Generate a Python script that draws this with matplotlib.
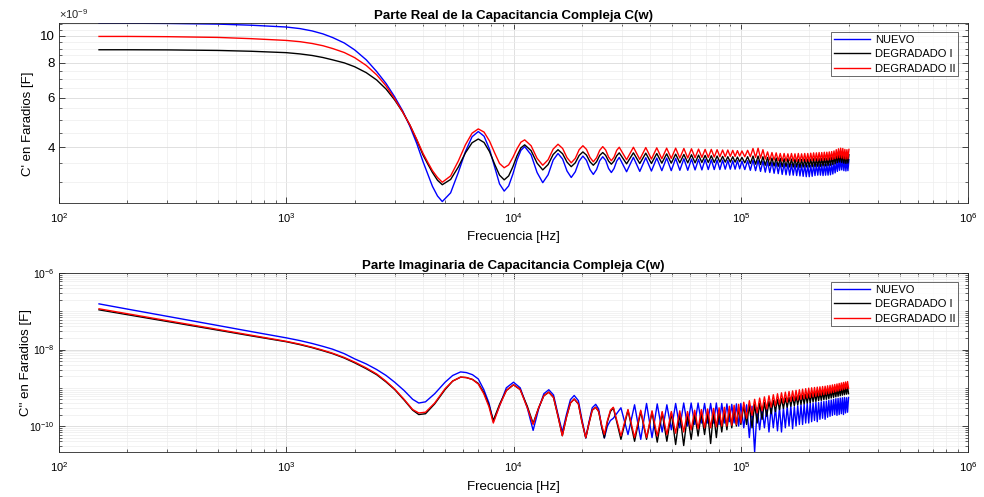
import matplotlib
matplotlib.use("Agg")
import matplotlib.pyplot as plt
import numpy as np
from matplotlib.ticker import FixedLocator, FixedFormatter, NullFormatter, LogLocator

plt.rcParams['font.family'] = ['Liberation Sans', 'DejaVu Sans']
plt.rcParams['mathtext.fontset'] = 'custom'
plt.rcParams['mathtext.rm'] = 'Liberation Sans'
plt.rcParams['mathtext.it'] = 'Liberation Sans:italic'
plt.rcParams['mathtext.bf'] = 'Liberation Sans:bold'

SERIES = ["NUEVO", "DEGRADADO I", "DEGRADADO II"]
COLORS = ["#0000ff", "#000000", "#ff0000"]

# ---------- Parte real C' (frecuencia en kHz, capacitancia en nF) ----------
F_REAL_KHZ = [
    0.15, 0.2, 0.3, 0.5, 0.7, 1.0, 1.15, 1.3, 1.45, 1.6, 1.8, 2.0, 2.25, 2.5, 2.75,
    3.0, 3.25, 3.5, 3.75, 4.0, 4.2, 4.4, 4.63,
    4.86, 5.288, 5.716, 6.144, 6.572, 7.0, 7.42, 7.84, 8.26, 8.68, 9.1,
    9.52, 9.94, 10.36, 10.78, 11.2, 11.95, 12.7, 13.45, 14.2,
    14.95, 15.7, 16.45, 17.2, 17.95, 18.7, 19.45, 20.2, 20.95, 21.7, 22.45, 23.2,
    23.95, 24.7, 25.45, 26.2, 26.95, 27.7, 28.45, 29.2,
    31.45, 33.7, 35.95, 38.2, 40.45, 42.7, 44.95, 47.2, 49.45, 51.7, 53.95, 56.2,
    58.45, 60.7, 62.95, 65.2, 67.45, 69.7, 71.95, 74.2, 76.45, 78.7, 80.95, 83.2,
    85.45, 87.7, 89.95, 92.2, 94.45, 96.7, 98.95, 101.2,
    104.2, 107.2, 110.2, 113.2, 116.2, 119.2, 122.2, 125.2, 128.2, 131.2, 134.2,
    137.2, 140.2, 143.2, 146.2, 149.2, 152.2, 155.2, 158.2, 161.2, 164.2, 167.2,
    170.2, 173.2, 176.2, 179.2, 182.2, 185.2, 188.2, 191.2, 194.2, 197.2, 200.2,
    203.2, 206.2, 209.2, 212.2, 215.2, 218.2, 221.2, 224.2, 227.2, 230.2, 233.2,
    236.2, 239.2, 242.2, 245.2, 248.2, 251.2, 254.2, 257.2, 260.2, 263.2, 266.2,
    269.2, 272.2, 275.2, 278.2, 281.2, 284.2, 287.2, 290.2, 293.2, 296.2, 299.2,
]

REAL_NUEVO_NF = [
    11.08, 11.08, 11.06, 11.00, 10.90, 10.74, 10.60, 10.40, 10.15, 9.85, 9.42, 8.90, 8.20, 7.45, 6.75,
    6.05, 5.40, 4.75, 4.13, 3.55, 3.20, 2.90, 2.68,
    2.56, 2.75, 3.25, 3.86, 4.36, 4.55, 4.38, 3.94, 3.40, 2.96, 2.79,
    2.91, 3.21, 3.60, 3.90, 4.02, 3.76, 3.25, 2.99, 3.19,
    3.60, 3.80, 3.63, 3.29, 3.12, 3.27, 3.57, 3.72, 3.59, 3.33, 3.20, 3.33,
    3.58, 3.70, 3.59, 3.36, 3.25, 3.36, 3.57, 3.68,
    3.27, 3.68, 3.28, 3.67, 3.29, 3.66, 3.30, 3.66, 3.30, 3.65, 3.31, 3.64,
    3.31, 3.63, 3.32, 3.62, 3.32, 3.62, 3.33, 3.61, 3.33, 3.60, 3.33, 3.60,
    3.34, 3.59, 3.34, 3.58, 3.34, 3.58, 3.35, 3.57,
    3.33, 3.58, 3.31, 3.60, 3.30, 3.59, 3.28, 3.57, 3.26, 3.55, 3.25,
    3.54, 3.23, 3.53, 3.22, 3.52, 3.20, 3.50, 3.19, 3.49, 3.18, 3.48,
    3.18, 3.48, 3.17, 3.47, 3.16, 3.46, 3.15, 3.46, 3.14, 3.45, 3.14,
    3.45, 3.15, 3.46, 3.17, 3.47, 3.18, 3.48, 3.18, 3.47, 3.17, 3.47,
    3.18, 3.48, 3.18, 3.48, 3.19, 3.49, 3.21, 3.51, 3.24, 3.55, 3.28,
    3.60, 3.31, 3.64, 3.32, 3.66, 3.30, 3.62, 3.29, 3.60, 3.30, 3.61,
]

REAL_DEG1_NF = [
    8.91, 8.91, 8.90, 8.86, 8.80, 8.70, 8.61, 8.50, 8.36, 8.20, 8.00, 7.75, 7.38, 6.95, 6.45,
    5.90, 5.35, 4.80, 4.25, 3.75, 3.48, 3.25, 3.05,
    2.94, 3.07, 3.40, 3.82, 4.15, 4.28, 4.16, 3.86, 3.48, 3.18, 3.06,
    3.16, 3.41, 3.73, 3.98, 4.08, 3.89, 3.51, 3.32, 3.47,
    3.77, 3.92, 3.79, 3.54, 3.41, 3.52, 3.74, 3.85, 3.75, 3.55, 3.45, 3.55,
    3.74, 3.83, 3.74, 3.57, 3.48, 3.57, 3.73, 3.82,
    3.49, 3.82, 3.50, 3.81, 3.50, 3.80, 3.51, 3.79, 3.51, 3.78, 3.52, 3.77,
    3.52, 3.76, 3.52, 3.75, 3.53, 3.74, 3.53, 3.73, 3.53, 3.72, 3.54, 3.71,
    3.54, 3.70, 3.54, 3.70, 3.54, 3.69, 3.55, 3.68,
    3.52, 3.70, 3.50, 3.72, 3.48, 3.72, 3.47, 3.70, 3.45, 3.68, 3.44,
    3.66, 3.43, 3.66, 3.42, 3.65, 3.41, 3.64, 3.41, 3.64, 3.40, 3.63,
    3.40, 3.63, 3.40, 3.62, 3.39, 3.62, 3.40, 3.63, 3.40, 3.63, 3.40,
    3.63, 3.41, 3.64, 3.41, 3.64, 3.42, 3.65, 3.42, 3.65, 3.43, 3.66,
    3.43, 3.66, 3.44, 3.67, 3.45, 3.68, 3.47, 3.70, 3.49, 3.73, 3.52,
    3.77, 3.54, 3.80, 3.53, 3.79, 3.51, 3.76, 3.50, 3.75, 3.51, 3.76,
]

REAL_DEG2_NF = [
    9.94, 9.94, 9.92, 9.86, 9.76, 9.62, 9.52, 9.38, 9.21, 9.00, 8.71, 8.35, 7.83, 7.25, 6.62,
    5.95, 5.35, 4.80, 4.27, 3.80, 3.53, 3.30, 3.12,
    3.00, 3.16, 3.57, 4.08, 4.49, 4.65, 4.53, 4.21, 3.82, 3.50, 3.38,
    3.46, 3.68, 3.95, 4.17, 4.25, 4.05, 3.65, 3.45, 3.61,
    3.94, 4.10, 3.96, 3.67, 3.52, 3.65, 3.92, 4.05, 3.93, 3.68, 3.55, 3.67,
    3.90, 4.02, 3.91, 3.69, 3.58, 3.69, 3.90, 4.00,
    3.61, 4.00, 3.62, 3.99, 3.63, 3.98, 3.64, 3.97, 3.65, 3.97, 3.66, 3.96,
    3.66, 3.95, 3.67, 3.94, 3.68, 3.93, 3.68, 3.93, 3.69, 3.92, 3.70, 3.91,
    3.70, 3.91, 3.71, 3.90, 3.71, 3.89, 3.72, 3.88,
    3.70, 3.90, 3.70, 3.96, 3.68, 3.97, 3.66, 3.92, 3.63, 3.85, 3.60,
    3.83, 3.60, 3.82, 3.58, 3.80, 3.57, 3.80, 3.57, 3.79, 3.58, 3.80,
    3.57, 3.79, 3.56, 3.80, 3.56, 3.79, 3.57, 3.80, 3.56, 3.80, 3.56,
    3.81, 3.58, 3.82, 3.58, 3.82, 3.58, 3.83, 3.59, 3.83, 3.59, 3.84,
    3.60, 3.84, 3.60, 3.85, 3.61, 3.86, 3.62, 3.88, 3.64, 3.92, 3.66,
    3.95, 3.67, 3.97, 3.66, 3.96, 3.64, 3.93, 3.63, 3.92, 3.64, 3.93,
]

# ---------- Parte imaginaria C'' (frecuencia en kHz, capacitancia en 1e-10 F) ----------
F_IMAG_KHZ = [
    0.15, 0.2, 0.3, 0.5, 0.7, 1.0, 1.15, 1.3, 1.45, 1.6, 1.8, 2.0, 2.25, 2.5, 2.75,
    3.0, 3.3, 3.6,
    3.83, 4.1, 4.5, 5.0, 5.4, 5.85, 6.2, 6.6, 7.0, 7.4, 7.8, 8.15, 8.7, 9.3, 10.0, 10.7, 11.5,
    12.2, 12.9, 13.6, 14.3, 15.0, 15.7, 16.4, 17.1, 17.8, 18.5, 19.3, 20.0,
    20.8, 21.5, 22.2, 23.0, 23.7, 24.4, 25.1, 25.9, 26.7, 27.5,
    29.7, 31.9, 34.1, 36.3, 38.5, 40.7, 42.9, 45.1, 47.3, 49.5, 51.7, 53.9,
    56.1, 58.3, 60.5, 62.7, 64.9, 67.1, 69.3, 71.5, 73.7, 75.9, 78.1, 80.3,
    82.5, 84.7, 86.9, 89.1, 91.3, 93.5, 95.7, 97.9, 100.1,
    103.1, 106.1, 109.1, 112.1, 115.1, 118.1, 121.1, 124.1, 127.1, 130.1, 133.1,
    136.1, 139.1, 142.1, 145.1, 148.1, 151.1, 154.1, 157.1, 160.1, 163.1, 166.1,
    169.1, 172.1, 175.1, 178.1, 181.1, 184.1, 187.1, 190.1, 193.1, 196.1, 199.1,
    202.1, 205.1, 208.1, 211.1, 214.1, 217.1, 220.1, 223.1, 226.1, 229.1, 232.1,
    235.1, 238.1, 241.1, 244.1, 247.1, 250.1, 253.1, 256.1, 259.1, 262.1, 265.1,
    268.1, 271.1, 274.1, 277.1, 280.1, 283.1, 286.1, 289.1, 292.1, 295.1, 298.1,
]

IMAG_NUEVO = [
    1560, 1140, 738, 425, 295, 202, 171, 144, 121, 102, 78, 57, 42, 30, 21,
    14, 8.5, 5.0,
    4.0, 4.3, 7.0, 14, 21, 26, 25, 22, 17, 9, 4.0, 1.3, 3.5, 10, 14, 10, 3.0,
    0.77, 2.8, 7.0, 8.9, 6.5, 2.0, 0.70, 2.0, 4.9, 6.3, 4.6, 1.5,
    0.49, 1.3, 3.0, 3.7, 2.8, 1.0, 0.49, 1.0, 1.4, 1.6,
    3.0, 0.6, 3.6, 0.45, 3.9, 0.5, 3.8, 0.7, 3.6, 0.8, 3.9, 0.9,
    4.0, 1.0, 4.0, 1.1, 4.0, 1.2, 3.9, 1.2, 3.9, 1.2, 4.0, 1.1,
    3.9, 1.2, 3.8, 1.3, 3.7, 1.2, 3.8, 1.0, 3.9,
    0.9, 3.6, 0.5, 3.3, 0.21, 3.0, 0.8, 2.9, 0.9, 3.0, 0.7,
    3.1, 0.9, 3.0, 0.75, 3.1, 0.7, 3.0, 0.9, 3.2, 1.0, 3.3,
    0.85, 3.2, 1.0, 3.4, 1.1, 3.6, 1.1, 3.7, 1.2, 3.9, 1.2,
    4.1, 1.3, 4.0, 1.4, 4.2, 1.3, 4.1, 1.5, 4.3, 1.6, 4.4,
    1.5, 4.5, 1.7, 4.7, 1.8, 4.8, 1.9, 5.0, 2.0, 5.2, 1.9,
    5.3, 2.0, 5.4, 2.1, 5.5, 2.0, 5.6, 2.2, 5.5, 2.3, 5.6,
]

IMAG_DEG1 = [
    1090, 815, 540, 320, 228, 160, 134, 112, 93, 78, 60, 45, 31.5, 22, 14.2,
    9.0, 4.8, 2.6,
    2.0, 2.1, 3.8, 9.0, 15, 19, 18.5, 16.5, 13, 7.5, 3.5, 1.4, 3.8, 8.5, 12, 9, 3.3,
    1.17, 3.0, 6.2, 7.7, 5.6, 1.8, 0.56, 1.7, 4.0, 5.1, 3.8, 1.3,
    0.49, 1.2, 2.6, 3.1, 2.4, 1.0, 0.49, 1.3, 2.4, 3.0,
    0.45, 2.6, 0.4, 2.4, 0.45, 2.3, 0.38, 2.2, 0.4, 2.2, 0.33, 2.1,
    0.31, 2.0, 0.45, 2.1, 0.55, 2.2, 0.6, 2.3, 0.35, 2.3, 0.5, 2.4,
    0.7, 2.5, 0.8, 2.7, 0.9, 2.8, 1.0, 3.0, 1.1,
    3.4, 1.1, 3.5, 0.9, 3.7, 1.2, 3.9, 1.5, 4.1, 1.8, 4.4,
    2.1, 4.7, 2.4, 5.0, 2.7, 5.2, 2.9, 5.4, 3.1, 5.6, 3.3,
    5.8, 3.4, 6.0, 3.6, 6.2, 3.7, 6.4, 3.8, 6.7, 4.0, 7.0,
    4.1, 7.2, 4.3, 7.4, 4.4, 7.6, 4.6, 7.8, 4.7, 8.0, 4.9,
    8.2, 5.0, 8.5, 5.2, 8.7, 5.4, 9.0, 5.6, 9.3, 5.8, 9.6,
    6.0, 9.9, 6.2, 10.2, 6.4, 10.5, 6.6, 10.8, 6.8, 11.0, 7.0,
]

IMAG_DEG2 = [
    1160, 862, 569, 335, 237, 164, 138, 115, 96, 80, 62, 47, 33, 23, 14.8,
    9.3, 5.0, 2.7,
    2.2, 2.3, 4.0, 9.5, 15, 19, 18.5, 16.5, 12.5, 7, 3.2, 1.2, 3.5, 8.5, 12, 9, 3.0,
    1.1, 3.0, 6.2, 7.7, 5.6, 1.8, 0.56, 1.7, 4.0, 5.1, 3.8, 1.3,
    0.5, 1.2, 2.6, 3.1, 2.4, 1.1, 0.60, 1.4, 2.6, 3.1,
    0.55, 2.7, 0.5, 2.6, 0.5, 2.5, 0.55, 2.4, 0.6, 2.4, 0.65, 2.5,
    0.7, 2.4, 0.8, 2.6, 0.85, 2.7, 0.9, 2.8, 0.9, 2.9, 0.95, 3.0,
    1.0, 3.1, 1.0, 3.3, 1.05, 3.5, 1.1, 3.7, 1.2,
    4.2, 1.6, 4.6, 1.9, 5.0, 2.2, 5.4, 2.5, 5.8, 2.8, 6.2,
    3.1, 6.6, 3.4, 7.0, 3.7, 7.4, 4.0, 7.7, 4.2, 8.0, 4.4,
    8.3, 4.6, 8.6, 4.8, 8.9, 5.0, 9.2, 5.2, 9.5, 5.4, 9.8,
    5.6, 10.0, 5.8, 10.2, 6.0, 10.4, 6.2, 10.6, 6.4, 10.8, 6.6,
    11.0, 6.8, 11.3, 7.0, 11.6, 7.3, 11.9, 7.6, 12.2, 7.9, 12.6,
    8.2, 13.0, 8.5, 13.4, 8.8, 13.8, 9.2, 14.2, 9.5, 14.6, 9.7,
]

X_TICKS = [1e2, 1e3, 1e4, 1e5, 1e6]
REAL_YTICKS_NF = [4, 6, 8, 10]
REAL_YMINOR_NF = [2.5, 3, 3.5, 4.5, 5, 5.5, 6.5, 7, 7.5, 8.5, 9, 9.5, 10.5, 11]
IMAG_YTICKS = [1e-10, 1e-8, 1e-6]

fig = plt.figure(figsize=(9.84, 4.97), dpi=100)
W, H = 984.0, 497.0
ax1 = fig.add_axes([59 / W, 1 - 203 / H, 909 / W, 180 / H])
ax2 = fig.add_axes([59 / W, 1 - 452 / H, 909 / W, 179 / H])

GRID_MAJ = dict(color="#dadada", linewidth=0.6, linestyle="-")
GRID_MIN = dict(color="#ededed", linewidth=0.5, linestyle="-")
AX_COLOR = "#262626"


def style_axes(ax):
    ax.set_xscale("log")
    ax.set_xlim(1e2, 1e6)
    ax.xaxis.set_major_locator(FixedLocator(X_TICKS))
    ax.xaxis.set_minor_locator(LogLocator(base=10, subs=np.arange(2, 10), numticks=20))
    ax.xaxis.set_minor_formatter(NullFormatter())
    ax.tick_params(which="both", direction="in", top=True, right=True,
                   labelsize=8, color=AX_COLOR)
    ax.tick_params(which="major", length=4, width=0.6)
    ax.tick_params(axis="x", which="major", pad=6)
    ax.tick_params(axis="y", which="major", pad=3)
    ax.tick_params(which="minor", length=2.2, width=0.5)
    for s in ax.spines.values():
        s.set_color(AX_COLOR)
        s.set_linewidth(0.6)
    ax.grid(True, which="major", **GRID_MAJ)
    ax.grid(True, which="minor", **GRID_MIN)
    ax.set_axisbelow(True)


# Parte real
f_real = np.array(F_REAL_KHZ) * 1e3
for name, vals, col in zip(SERIES, [REAL_NUEVO_NF, REAL_DEG1_NF, REAL_DEG2_NF], COLORS):
    ax1.plot(f_real, np.array(vals) * 1e-9, color=col, lw=1.0, label=name)
style_axes(ax1)
ax1.set_yscale("log")
ax1.set_ylim(2.53e-9, 11.1e-9)
ax1.yaxis.set_major_locator(FixedLocator([v * 1e-9 for v in REAL_YTICKS_NF]))
ax1.yaxis.set_major_formatter(FixedFormatter([str(v) for v in REAL_YTICKS_NF]))
ax1.yaxis.set_minor_locator(FixedLocator([v * 1e-9 for v in REAL_YMINOR_NF]))
ax1.yaxis.set_minor_formatter(NullFormatter())
ax1.tick_params(axis="y", which="major", labelsize=9.5)
ax1.text(0.0, 1.012, r"$\times10^{-9}$", transform=ax1.transAxes, ha="left",
         va="bottom", fontsize=8, color=AX_COLOR)
ax1.set_title("Parte Real de la Capacitancia Compleja C(w)", fontsize=9.5,
              fontweight="bold", pad=3)
ax1.set_xlabel("Frecuencia [Hz]", fontsize=9.5, labelpad=4)
ax1.set_ylabel("C' en Faradios [F]", fontsize=9.5, va="center", ha="center")
ax1.yaxis.set_label_coords(-0.034, 0.44)

# Parte imaginaria
f_imag = np.array(F_IMAG_KHZ) * 1e3
for name, vals, col in zip(SERIES, [IMAG_NUEVO, IMAG_DEG1, IMAG_DEG2], COLORS):
    ax2.plot(f_imag, np.array(vals) * 1e-10, color=col, lw=1.0, label=name)
style_axes(ax2)
ax2.set_yscale("log")
ax2.set_ylim(2.1e-11, 1e-6)
ax2.yaxis.set_major_locator(FixedLocator(IMAG_YTICKS))
ax2.yaxis.set_minor_locator(LogLocator(base=10, subs=np.arange(1, 10), numticks=20))
ax2.yaxis.set_minor_formatter(NullFormatter())
ax2.tick_params(axis="y", which="major", labelsize=7.5)
ax2.set_title("Parte Imaginaria de Capacitancia Compleja C(w)", fontsize=9.5,
              fontweight="bold", pad=3)
ax2.set_xlabel("Frecuencia [Hz]", fontsize=9.5, labelpad=5)
ax2.set_ylabel("C'' en Faradios [F]", fontsize=9.5, va="center", ha="center")
ax2.yaxis.set_label_coords(-0.036, 0.5)

for ax in (ax1, ax2):
    leg = ax.legend(loc="upper right", bbox_to_anchor=(0.989, 0.95), borderaxespad=0,
                    fontsize=8, frameon=True, fancybox=False, handlelength=3.3,
                    handletextpad=0.4, labelspacing=0.4, borderpad=0.25)
    leg.get_frame().set_edgecolor(AX_COLOR)
    leg.get_frame().set_linewidth(0.6)

fig.savefig("out.png", dpi=100)
